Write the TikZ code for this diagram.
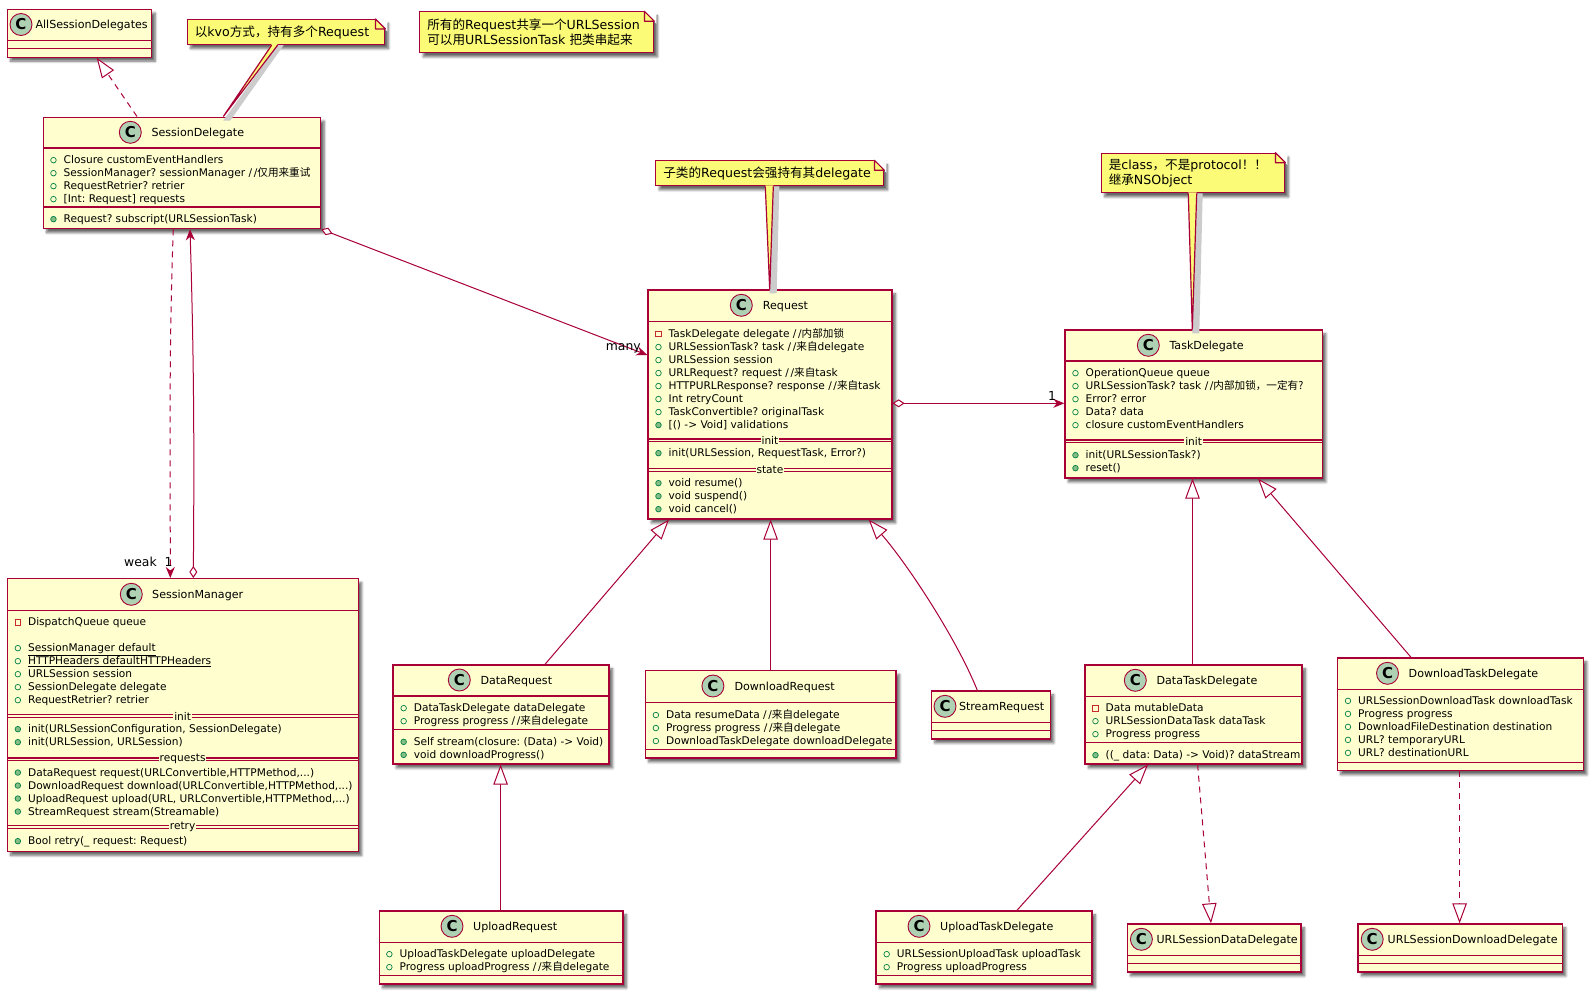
\documentclass[tikz,border=0pt]{standalone}
\usepackage{xcolor}
\usepackage{fontspec}
\setmainfont{DejaVu Sans}
\newfontfamily\cjkfont{Noto Sans CJK SC}
\usepackage{tikz}
\usetikzlibrary{shapes,arrows.meta,positioning,shadows,shadows.blur}
\frenchspacing

\definecolor{umlred}{HTML}{A80036}
\definecolor{umlfill}{HTML}{FEFECE}
\definecolor{umlnote}{HTML}{FBFB77}
\definecolor{umlspot}{HTML}{ADD1B2}
\definecolor{markgreen}{HTML}{038048}
\definecolor{markfill}{HTML}{84BE84}
\definecolor{markred}{HTML}{C82930}

\newcommand{\zh}[1]{{\cjkfont #1}}
\newcommand{\slashes}{/\kern1.6pt/}
\newcommand{\linestrut}{\rule[-3pt]{0pt}{10pt}}
\newcommand{\pub}{\linestrut\makebox[13.4pt][l]{\tikz[baseline=-3.7pt]\draw[markgreen,line width=.7pt] (0,0) circle (2.8pt);}}
\newcommand{\meth}{\linestrut\makebox[13.4pt][l]{\tikz[baseline=-3.7pt]\draw[markgreen,fill=markfill,line width=.7pt] (0,0) circle (2.8pt);}}
\newcommand{\priv}{\linestrut\makebox[13.4pt][l]{\tikz[baseline=-3.7pt]\draw[markred,line width=.7pt] (-2.7pt,-2.7pt) rectangle (2.7pt,2.7pt);}}

\tikzset{
    softshadow/.style={blur shadow={shadow xshift=3.5pt,shadow yshift=-4pt,shadow blur radius=2.5pt,shadow blur steps=6,shadow opacity=60}},
    classbox/.style={rectangle, draw=umlred, fill=umlfill, line width=1.3pt, anchor=north west, inner sep=0pt, softshadow},
    classline/.style={draw=umlred, line width=1.2pt},
    spot/.style={circle, draw=umlred, fill=umlspot, line width=.9pt, minimum size=22pt, inner sep=0pt, font=\bfseries\fontsize{15}{15}\selectfont},
    classtitle/.style={anchor=base west, inner sep=0pt, font=\fontsize{11.1}{14}\selectfont},
    members/.style={anchor=north west, align=left, inner sep=0pt, yshift=-2.5pt, font=\fontsize{10.6}{13}\selectfont},
    seplabel/.style={fill=umlfill, inner xsep=.8pt, inner ysep=0pt, font=\fontsize{10.6}{13}\selectfont},
    notebox/.style={rectangle, draw=umlred, fill=umlnote, line width=1.1pt, anchor=north west, align=left, inner xsep=7.5pt, inner ysep=0pt, softshadow, font=\fontsize{12.6}{15}\selectfont},
    edgelabel/.style={anchor=base west, inner sep=0pt, font=\fontsize{12.4}{14}\selectfont},
    assoc/.style={draw=umlred, line width=1pt},
    inherit/.style={assoc, -{Triangle[open,fill=white,length=20pt,width=14.5pt]}},
    realize/.style={inherit, dash pattern=on 6pt off 5pt},
    navigate/.style={assoc, -{Stealth[length=11pt,width=9pt,inset=3.5pt]}},
    holds/.style={assoc, {Diamond[open,fill=white,length=12pt,width=8pt]}-{Stealth[length=11pt,width=9pt,inset=3.5pt]}}
}

% spot, title
\newcommand{\classhead}[5]{
    \node (#1spot) [spot] at (#2,#3) {C};
    \node (#1title) [classtitle] at (#4,#3+4.4) {#5};
}
\newcommand{\sepline}[2]{\draw[classline] (#1.west |- 0,#2) -- (#1.east |- 0,#2);}
\newcommand{\dblsep}[3]{
    \draw[classline] (#1.west |- 0,#2-1.3) -- (#1.east |- 0,#2-1.3);
    \draw[classline] (#1.west |- 0,#2+1.3) -- (#1.east |- 0,#2+1.3);
    \node (#1#3) [seplabel] at (#1.center |- 0,#2) {#3};
}
\newcommand{\notefold}[1]{
    \draw[white, fill=white, line width=2pt] ([xshift=-10pt,yshift=1pt]#1.north east) -- ([xshift=1pt,yshift=1pt]#1.north east) -- ([xshift=1pt,yshift=-10pt]#1.north east) -- cycle;
    \draw[classline, fill=umlnote, line join=round] ([xshift=-10pt]#1.north east) -- ([yshift=-10pt]#1.north east) -| cycle;
}
% note, base x1, base x2, class, tip x
\newcommand{\notetail}[5]{
    \fill[black!20] ([xshift=6pt]#2,0 |- #1.south) -- ([yshift=-4pt]#5,0 |- #4.north) -- ([xshift=7pt,yshift=-4pt]#5,0 |- #4.north) -- ([xshift=6pt]#3,0 |- #1.south) -- cycle;
    \fill[umlnote] ([yshift=1pt]#2,0 |- #1.south) -- (#5,0 |- #4.north) -- ([yshift=1pt]#3,0 |- #1.south) -- cycle;
    \draw[classline] (#2,0 |- #1.south) -- (#5,0 |- #4.north) -- (#3,0 |- #1.south);
}

\begin{document}
\begin{tikzpicture}[x=1pt, y=-1pt]
    \useasboundingbox (0,0) rectangle (1592,993);

    % classes
    \node (allsd) [classbox, minimum width=144.5pt, minimum height=48pt] at (6.5,8.5) {};
    \classhead{allsd}{21}{24.5}{35.3}{AllSessionDelegates}
    \sepline{allsd}{40.7}
    \sepline{allsd}{48.3}

    \node (sd) [classbox, minimum width=277.5pt, minimum height=111.5pt] at (42.5,116.5) {};
    \classhead{sd}{130.3}{132.3}{151.3}{SessionDelegate}
    \sepline{sd}{148}
    \sepline{sd}{207}
    \node (sdattr) [members] at (50.1,153.1) {\pub Closure customEventHandlers\\
        \pub SessionManager? sessionManager \slashes\zh{仅用来重试}\\
        \pub RequestRetrier? retrier\\
        \pub [Int: Request] requests};
    \node (sdmeth) [members] at (50.1,212.1) {\meth Request? subscript(URLSessionTask)};

    \node (sm) [classbox, minimum width=351pt, minimum height=272.7pt] at (6.5,578) {};
    \classhead{sm}{131.3}{594.3}{152}{SessionManager}
    \sepline{sm}{610.7}
    \node (smattr) [members] at (14.5,615.1) {\priv DispatchQueue queue\\[13pt]
        \pub \underline{SessionManager default}\\
        \pub \underline{HTTPHeaders defaultHTTPHeaders}\\
        \pub URLSession session\\
        \pub SessionDelegate delegate\\
        \pub RequestRetrier? retrier};
    \dblsep{sm}{716}{init}
    \node (sminitm) [members] at (14.5,722.1) {\meth init(URLSessionConfiguration, SessionDelegate)\\
        \meth init(URLSession, URLSession)};
    \dblsep{sm}{759.3}{requests}
    \node (smreqm) [members] at (14.5,765.5) {\meth DataRequest request(URLConvertible,HTTPMethod,...)\\
        \meth DownloadRequest download(URLConvertible,HTTPMethod,...)\\
        \meth UploadRequest upload(URL, URLConvertible,HTTPMethod,...)\\
        \meth StreamRequest stream(Streamable)};
    \dblsep{sm}{827}{retry}
    \node (smretrym) [members] at (14.5,834.1) {\meth Bool retry(\_ request: Request)};

    \node (req) [classbox, minimum width=244pt, minimum height=229pt] at (647.3,289.3) {};
    \classhead{req}{741.3}{305.3}{762.7}{Request}
    \sepline{req}{321.7}
    \node (reqattr) [members] at (655.1,326.1) {\priv TaskDelegate delegate \slashes\zh{内部加锁}\\
        \pub URLSessionTask? task \slashes\zh{来自}delegate\\
        \pub URLSession session\\
        \pub URLRequest? request \slashes\zh{来自}task\\
        \pub HTTPURLResponse? response \slashes\zh{来自}task\\
        \pub Int retryCount\\
        \pub TaskConvertible? originalTask\\
        \meth [() -> Void] validations};
    \dblsep{req}{440.3}{init}
    \node (reqinitm) [members] at (655.1,446.1) {\meth init(URLSession, RequestTask, Error?)};
    \dblsep{req}{470}{state}
    \node (reqstatem) [members] at (655.1,476.1) {\meth void resume()\\
        \meth void suspend()\\
        \meth void cancel()};

    \node (td) [classbox, minimum width=257.4pt, minimum height=148pt] at (1064.3,329.3) {};
    \classhead{td}{1148.3}{345.3}{1169.3}{TaskDelegate}
    \sepline{td}{361}
    \node (tdattr) [members] at (1072.1,366.1) {\pub OperationQueue queue\\
        \pub URLSessionTask? task \slashes\zh{内部加锁，一定有?}\\
        \pub Error? error\\
        \pub Data? data\\
        \pub closure customEventHandlers};
    \dblsep{td}{441.3}{init}
    \node (tdinitm) [members] at (1072.1,448.1) {\meth init(URLSessionTask?)\\
        \meth reset()};

    \node (dreq) [classbox, minimum width=216.1pt, minimum height=99pt] at (392.3,664.3) {};
    \classhead{dreq}{459.3}{680}{480.3}{DataRequest}
    \sepline{dreq}{696}
    \node (dreqattr) [members] at (400.3,701.1) {\pub DataTaskDelegate dataDelegate\\
        \pub Progress progress \slashes\zh{来自}delegate};
    \sepline{dreq}{729.3}
    \node (dreqmeth) [members] at (400.3,734.8) {\meth Self stream(closure: (Data) -> Void)\\
        \meth void downloadProgress()};

    \node (dlreq) [classbox, minimum width=250.9pt, minimum height=87.3pt] at (644.5,670) {};
    \classhead{dlreq}{712.9}{686}{734.3}{DownloadRequest}
    \sepline{dlreq}{702.3}
    \node (dlreqattr) [members] at (652.5,707.1) {\pub Data resumeData \slashes\zh{来自}delegate\\
        \pub Progress progress \slashes\zh{来自}delegate\\
        \pub DownloadTaskDelegate downloadDelegate};
    \sepline{dlreq}{749.3}

    \node (sreq) [classbox, minimum width=118.8pt, minimum height=48pt] at (930.7,690.3) {};
    \classhead{sreq}{945}{706.3}{958.8}{StreamRequest}
    \sepline{sreq}{722.3}
    \sepline{sreq}{730.3}

    \node (ureq) [classbox, minimum width=243.7pt, minimum height=73pt] at (378.5,910.3) {};
    \classhead{ureq}{452}{926.3}{473}{UploadRequest}
    \sepline{ureq}{942.3}
    \node (ureqattr) [members] at (386,947.1) {\pub UploadTaskDelegate uploadDelegate\\
        \pub Progress uploadProgress \slashes\zh{来自}delegate};
    \sepline{ureq}{975.3}

    \node (dtd) [classbox, minimum width=216.9pt, minimum height=99pt] at (1084.4,664.3) {};
    \classhead{dtd}{1135.3}{680.3}{1156.4}{DataTaskDelegate}
    \sepline{dtd}{696.3}
    \node (dtdattr) [members] at (1092.1,701.1) {\priv Data mutableData\\
        \pub URLSessionDataTask dataTask\\
        \pub Progress progress};
    \sepline{dtd}{742.7}
    \node (dtdmeth) [members] at (1092.1,748.1) {\meth ((\_ data: Data) -> Void)? dataStream};

    \node (dltd) [classbox, minimum width=246pt, minimum height=112.7pt] at (1336.6,657.3) {};
    \classhead{dltd}{1387.5}{673.3}{1408.5}{DownloadTaskDelegate}
    \sepline{dltd}{689.3}
    \node (dltdattr) [members] at (1344.6,693.8) {\pub URLSessionDownloadTask downloadTask\\
        \pub Progress progress\\
        \pub DownloadFileDestination destination\\
        \pub URL? temporaryURL\\
        \pub URL? destinationURL};
    \sepline{dltd}{762.3}

    \node (utd) [classbox, minimum width=215.8pt, minimum height=73pt] at (875.4,910.3) {};
    \classhead{utd}{919}{926.3}{940}{UploadTaskDelegate}
    \sepline{utd}{942.3}
    \node (utdattr) [members] at (883.3,947.1) {\pub URLSessionUploadTask uploadTask\\
        \pub Progress uploadProgress};
    \sepline{utd}{975.3}

    \node (usdd) [classbox, minimum width=173.7pt, minimum height=48pt] at (1126.5,923.3) {};
    \classhead{usdd}{1141.4}{939.3}{1156.4}{URLSessionDataDelegate}
    \sepline{usdd}{955.3}
    \sepline{usdd}{963.3}

    \node (usdl) [classbox, minimum width=204.2pt, minimum height=48pt] at (1357.3,923.3) {};
    \classhead{usdl}{1372.2}{939.3}{1387.5}{URLSessionDownloadDelegate}
    \sepline{usdl}{955.3}
    \sepline{usdl}{963.3}

    % notes
    \node (kvonote) [notebox, text width=182.6pt, minimum height=25pt] at (186.7,19) {\zh{以}kvo\zh{方式，持有多个}Request};
    \node (sharenote) [notebox, text width=219pt, minimum height=41pt] at (419.3,11.3) {\zh{所有的}Request\zh{共享一个}URLSession\\\zh{可以用}URLSessionTask \zh{把类串起来}};
    \node (subnote) [notebox, text width=213pt, minimum height=25pt] at (655.3,160.3) {\zh{子类的}Request\zh{会强持有其}delegate};
    \node (tasknote) [notebox, text width=168.6pt, minimum height=39.6pt] at (1100.7,152.7) {\zh{是}class\zh{，不是}protocol\zh{！！}\\\zh{继承}NSObject};
    \notefold{kvonote}
    \notefold{sharenote}
    \notefold{subnote}
    \notefold{tasknote}
    \notetail{kvonote}{271.7}{277.7}{sd}{223.3}
    \notetail{subnote}{765.3}{773.3}{req}{769.7}
    \notetail{tasknote}{1188.3}{1196.7}{td}{1192.3}

    % connectors
    \draw[realize] ([xshift=94.5pt]sd.north west) -- ([xshift=90.2pt]allsd.south west);
    \draw[holds] (sd.south east) -- (req.west |- 0,355);
    \draw[navigate, dash pattern=on 6pt off 5pt] ([xshift=130.8pt]sd.south west) .. controls +(-4.5,120) and +(0,-120) .. ([xshift=163.8pt]sm.north west);
    \draw[holds] ([xshift=186.8pt]sm.north west) .. controls +(1,-130) and +(4,130) .. ([xshift=147.5pt]sd.south west);
    \draw[holds] (req.east |- 0,403.3) -- (td.west |- 0,403.3);
    \draw[inherit] ([xshift=152.7pt]dreq.north west) -- ([xshift=21.7pt]req.south west);
    \draw[inherit] ([xshift=126.1pt]dlreq.north west) -- ([xshift=123.3pt]req.south west);
    \draw[inherit] ([xshift=46.6pt]sreq.north west) .. controls +(-20,-50) and +(40,46) .. ([xshift=221.4pt]req.south west);
    \draw[inherit] ([xshift=122.1pt]ureq.north west) -- ([xshift=108.3pt]dreq.south west);
    \draw[inherit] ([xshift=108.1pt]dtd.north west) -- ([xshift=128.2pt]td.south west);
    \draw[inherit] ([xshift=74.4pt]dltd.north west) -- ([xshift=193.7pt]td.south west);
    \draw[inherit] ([xshift=141.6pt]utd.north west) -- ([xshift=63.6pt]dtd.south west);
    \draw[realize] ([xshift=113.2pt]dtd.south west) -- ([xshift=84.5pt]usdd.north west);
    \draw[realize] ([xshift=123pt]dltd.south west) -- ([xshift=102.3pt]usdl.north west);

    % labels
    \node (manylabel) [edgelabel] at (605.7,350) {many};
    \node (weaklabel) [edgelabel] at (124,566.7) {weak\ \ 1};
    \node (onelabel) [edgelabel] at (1048,400) {1};
\end{tikzpicture}
\end{document}
